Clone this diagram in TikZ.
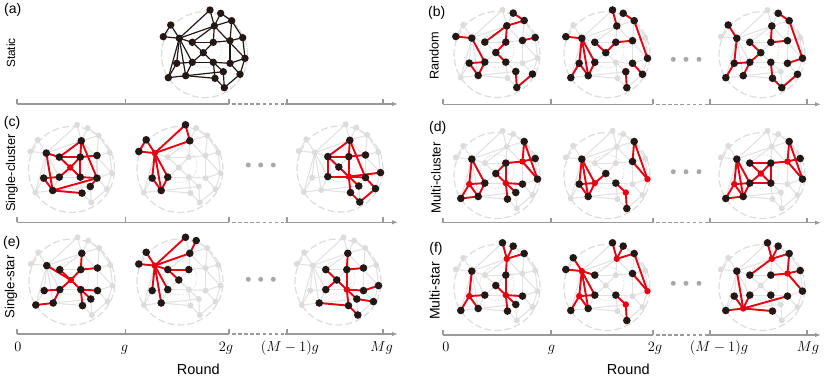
\documentclass[tikz,border=0pt]{standalone}
\usepackage{fontspec}
\newfontfamily\lsans{Liberation Sans}
\usetikzlibrary{arrows.meta}
\definecolor{hred}{HTML}{E60012}
\definecolor{hblk}{HTML}{231815}
\definecolor{gnode}{HTML}{DCDCDC}
\definecolor{gedge}{HTML}{E2E2E2}
\definecolor{axgray}{HTML}{9A9A9A}
\tikzset{
  gedgest/.style={draw=gedge,line width=1.1pt},
  sedgest/.style={draw=hblk,line width=1.2pt},
  redgest/.style={draw=hred,line width=1.9pt},
  gdot/.style={circle,fill=gnode,inner sep=0pt,minimum size=6pt},
  sdot/.style={circle,fill=hblk,inner sep=0pt,minimum size=7.4pt},
  bdot/.style={circle,fill=hblk,inner sep=0pt,minimum size=7.6pt},
  rdot/.style={circle,fill=hred,inner sep=0pt,minimum size=6.4pt},
  outerc/.style={draw=gnode,line width=1.2pt,dash pattern=on 7pt off 3pt},
  innerc/.style={draw=gnode,line width=0.9pt,dash pattern=on 1pt off 1.6pt},
  axisln/.style={draw=axgray,line width=1.3pt},
  ddot/.style={circle,fill=axgray!85,inner sep=0pt,minimum size=5pt},
  mlab/.style={anchor=base,font=\fontsize{15}{18}\selectfont},
  plab/.style={font=\lsans\fontsize{14}{16}\selectfont},
  rlab/.style={rotate=90,font=\lsans\fontsize{#1}{#1}\selectfont},
  roundlab/.style={anchor=base,font=\lsans\fontsize{14.5}{16}\selectfont}
}
\newcommand\basenet[5]{%
  \begin{scope}[shift={(#2,#3)}]
    \draw[outerc] (0,0) circle[radius=43pt];
    \draw[innerc] (0,-4) circle[radius=17pt];
    \foreach \i/\x/\y in {1/5.5/-44.7, 2/16.2/-41.4, 3/27.2/-34, 4/-33.8/-29.7,
      5/9.8/-28.7, 6/-41.2/-18, 7/-25.2/-16.4, 8/-12.2/-12.4, 9/8.8/-12.4,
      10/25.5/-14, 11/38.2/-17, 12/-1.2/-2, 13/-27.8/8.6, 14/-12.2/7.6,
      15/8.8/7.6, 16/25.5/8.6, 17/40.5/3.6, 18/-36.2/23, 19/-18.8/21,
      20/18.8/17, 21/10.5/23.6, 22/35.5/19.6, 23/19.8/33}
      {\coordinate (#1-\i) at (\x,\y);}
    \foreach \a/\b in {4/6, 4/7, 6/7, 7/1, 7/5, 7/8, 7/13, 7/18, 7/19, 7/14,
      1/5, 2/5, 2/3, 3/5, 3/10, 3/11, 5/8, 5/9, 5/17, 8/9, 8/12, 9/12,
      12/14, 12/15, 9/10, 10/11, 10/16, 11/17, 13/14, 13/18, 18/19, 14/19,
      19/20, 19/21, 14/15, 15/16, 15/21, 16/17, 16/22, 17/22, 21/23, 22/23,
      20/23, 15/20}
      {\draw[#4] (#1-\a) -- (#1-\b);}
    \foreach \i in {1,...,23} {\node[#5] (#1-n\i) at (#1-\i) {};}
  \end{scope}}
\newcommand\hlE[2]{\foreach \a/\b in {#2} {\draw[redgest] (#1-\a) -- (#1-\b);}}
\newcommand\hlB[2]{\foreach \i in {#2} {\node[bdot] (#1-k\i) at (#1-\i) {};}}
\newcommand\hlR[2]{\foreach \i in {#2} {\node[rdot] (#1-r\i) at (#1-\i) {};}}
\newcommand\timeaxis[8]{%
  \coordinate (#1-0) at (#3,#2);
  \coordinate (#1-g) at (#4,#2);
  \coordinate (#1-2g) at (#5,#2);
  \coordinate (#1-m1) at (#6,#2);
  \coordinate (#1-m) at (#7,#2);
  \coordinate (#1-e) at (#8,#2);
  \draw[axisln] (#1-0) -- (#1-2g);
  \draw[axisln,dash pattern=on 3.5pt off 2.6pt,shorten <=3pt,shorten >=2pt] (#1-2g) -- (#1-m1);
  \draw[axisln,-{Latex[length=6pt,width=4.5pt]}] ([xshift=-2pt]#1-m1) -- (#1-e);
  \foreach \t in {0,g,2g,m1,m} {\draw[axisln] (#1-\t) -- ++(0,-5);}
}
\begin{document}
\begin{tikzpicture}[x=1pt,y=-1pt]
\useasboundingbox (0,0) rectangle (831,382);

% ---------- (a) Static ----------
\basenet{a}{204.5}{54.7}{sedgest}{sdot}

% ---------- (b) Random ----------
\basenet{bA}{497}{54.5}{gedgest}{gdot}
\hlE{bA}{2/3,3/5,5/8,5/9,6/7,7/14,9/12,12/15,10/11,13/14,13/19,14/19,20/23,22/23}
\hlB{bA}{2,3,5,6,7,8,9,10,11,12,13,14,15,19,20,22,23}
\basenet{bB}{607}{54.7}{gedgest}{gdot}
\hlE{bB}{1/5,2/3,3/17,6/7,7/13,7/14,7/19,8/12,9/12,9/10,13/18,13/19,14/19,16/22,20/23}
\hlB{bB}{1,2,3,5,6,7,8,9,10,12,13,14,16,17,18,19,20,22,23}
\basenet{bC}{762}{54.7}{gedgest}{gdot}
\hlE{bC}{2/3,3/17,4/7,7/13,5/9,9/10,8/12,12/14,13/14,13/18,14/19,15/21,21/23,22/23,16/17}
\hlB{bC}{2,3,4,5,7,8,9,10,12,13,14,15,16,17,18,19,21,22,23}

% ---------- (c) Single-cluster ----------
\basenet{cA}{71.5}{169.5}{gedgest}{gdot}
\hlE{cA}{7/8,7/19,5/8,5/9,5/16,8/9,9/10,8/12,9/12,12/14,12/15,9/15,13/14,13/19,19/16,19/21,15/16,16/20}
\hlB{cA}{5,7,8,9,10,13,14,15,16,19,20,21}
\hlR{cA}{12}
\basenet{cB}{180}{169.5}{gedgest}{gdot}
\hlE{cB}{7/1,7/5,1/5,4/7,4/6,6/7,7/13,7/14,7/19,13/19,14/19}
\hlB{cB}{1,4,5,6,13,14,19}
\hlR{cB}{7}
\basenet{cC}{340}{169}{gedgest}{gdot}
\hlE{cC}{5/8,5/9,5/16,8/9,9/10,8/14,8/12,12/15,14/15,9/15,15/16,15/17,15/21,15/20,21/23,22/23,16/22}
\hlB{cC}{5,8,9,10,12,14,16,17,20,21,22,23}
\hlR{cC}{15}

% ---------- (d) Multi-cluster ----------
\basenet{dA}{497}{175.5}{gedgest}{gdot}
\hlE{dA}{7/13,7/14,13/14,13/18,13/19,18/19,14/19,9/15,9/12,12/15,15/16,15/20,15/21,9/10,3/10,10/11,10/17,3/17}
\hlB{dA}{3,7,9,11,12,14,16,17,18,19,20,21}
\hlR{dA}{10,13,15}
\basenet{dB}{607}{175.5}{gedgest}{gdot}
\hlE{dB}{7/13,7/19,7/14,13/14,13/19,14/19,14/12,15/20,20/23,3/10,3/17,10/17}
\hlB{dB}{3,7,10,12,13,15,19,23}
\hlR{dB}{14,17,20}
\basenet{dC}{762}{175.5}{gedgest}{gdot}
\hlE{dC}{7/13,7/19,7/14,13/14,13/18,13/19,18/19,14/19,8/9,8/12,9/12,12/14,12/15,9/15,9/10,3/10,10/11,10/17,3/17,14/15}
\hlB{dC}{3,7,8,9,11,14,15,17,18,19}
\hlR{dC}{10,12,13}

% ---------- (e) Single-star ----------
\basenet{eA}{72}{282}{gedgest}{gdot}
\hlE{eA}{12/7,12/8,12/9,12/14,12/15,9/5,9/10,14/13,14/19,19/18,15/16,15/21,15/20}
\hlB{eA}{5,7,8,9,10,13,14,15,16,18,19,20,21}
\hlR{eA}{12}
\basenet{eB}{180}{282}{gedgest}{gdot}
\hlE{eB}{7/1,7/5,2/5,7/4,7/6,7/8,8/9,8/12,7/13,7/14,7/19}
\hlB{eB}{1,2,4,5,6,8,9,12,13,14,19}
\hlR{eB}{7}
\basenet{eC}{338}{282}{gedgest}{gdot}
\hlE{eC}{15/9,15/12,15/16,15/20,15/21,9/5,9/10,12/8,12/14,16/17,20/22,21/19,21/23}
\hlB{eC}{5,8,9,10,12,14,16,17,19,20,21,22,23}
\hlR{eC}{15}

% ---------- (f) Multi-star ----------
\basenet{fA}{497}{287.5}{gedgest}{gdot}
\hlE{fA}{5/1,5/2,5/3,5/9,15/9,15/12,15/16,15/20,15/21,13/7,13/14,13/18,13/19}
\hlB{fA}{1,2,3,7,9,12,14,16,18,19,20,21}
\hlR{fA}{5,13,15}
\basenet{fB}{607}{287.5}{gedgest}{gdot}
\hlE{fB}{5/1,5/2,5/3,7/4,7/6,7/8,7/13,7/19,7/14,13/18,13/19,13/14,10/17,3/17,15/20,20/23}
\hlB{fB}{1,2,3,4,6,8,10,14,15,18,19,23}
\hlR{fB}{5,7,13,17,20}
\basenet{fC}{762}{287.5}{gedgest}{gdot}
\hlE{fC}{5/1,5/2,5/3,5/8,9/10,3/10,10/11,10/17,19/7,19/13,19/14,19/18,19/21,19/16}
\hlB{fC}{1,2,3,7,8,9,11,13,14,15,16,17,18,21}
\hlR{fC}{5,10,19}

% ---------- ellipsis dots ----------
\foreach \k/\x in {1/248.3,2/260.7,3/273.3} {
  \node[ddot] (dc\k) at (\x,165) {};
  \node[ddot] (de\k) at (\x,279.3) {};}
\foreach \k/\x in {1/673.3,2/686,3/699} {
  \node[ddot] (db\k) at (\x,59.3) {};
  \node[ddot] (dd\k) at (\x,171.7) {};
  \node[ddot] (df\k) at (\x,283.3) {};}

% ---------- axes ----------
\timeaxis{axA}{104}{17}{125.5}{229}{287}{383}{398}
\timeaxis{axC}{222.3}{17}{125.5}{229}{287}{383}{398}
\timeaxis{axE}{334}{17}{125.5}{229}{287}{383}{398}
\timeaxis{axB}{104.3}{443}{551}{653}{710}{807}{821}
\timeaxis{axD}{222.7}{443}{551}{653}{710}{807}{821}
\timeaxis{axF}{335}{443}{551}{653}{710}{807}{821}

% ---------- axis labels ----------
\node[mlab] (l0) at (18,351.5) {$0$};
\node[mlab] (l1) at (124.5,351.5) {$g$};
\node[mlab] (l2) at (226,351.5) {$2g$};
\node[mlab] (l3) at (290,351.5) {$(M-1)g$};
\node[mlab] (l4) at (381.7,351.5) {$Mg$};
\node[mlab] (r0) at (446,351.5) {$0$};
\node[mlab] (r1) at (551.5,351.5) {$g$};
\node[mlab] (r2) at (655,351.5) {$2g$};
\node[mlab] (r3) at (719,351.5) {$(M-1)g$};
\node[mlab] (r4) at (808,351.5) {$Mg$};
\node[roundlab] (roundL) at (198.3,374) {Round};
\node[roundlab] (roundR) at (628.3,374) {Round};

% ---------- panel labels ----------
\node[plab] (pa) at (12.7,10) {(a)};
\node[plab] (pb) at (436.7,12.5) {(b)};
\node[plab] (pc) at (12,123.3) {(c)};
\node[plab] (pd) at (437.7,127.5) {(d)};
\node[plab] (pe) at (11.7,242.5) {(e)};
\node[plab] (pf) at (436,249) {(f)};

% ---------- row labels ----------
\node[rlab=11.8] (ra) at (10.8,53) {Static};
\node[rlab=12.7] (rb) at (434,56) {Random};
\node[rlab=12.8] (rc) at (11.7,173) {Single-cluster};
\node[rlab=13.2] (rd) at (436,178) {Multi-cluster};
\node[rlab=13.2] (re) at (11,287) {Single-star};
\node[rlab=14] (rf) at (434.5,291) {Multi-star};
\end{tikzpicture}
\end{document}
